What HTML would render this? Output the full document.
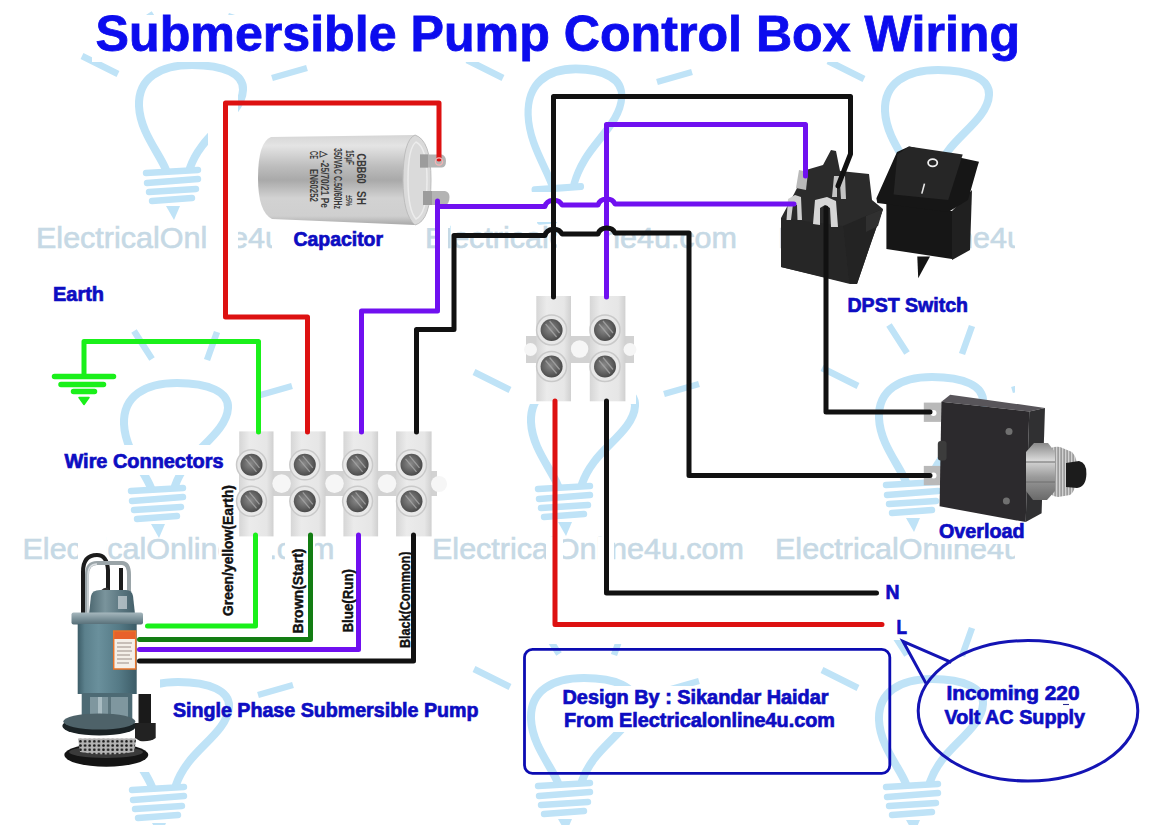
<!DOCTYPE html>
<html><head><meta charset="utf-8"><title>Submersible Pump Control Box Wiring</title>
<style>
html,body{margin:0;padding:0;background:#fff;width:1161px;height:825px;overflow:hidden}
svg{position:absolute;left:0;top:0;display:block}
text{font-family:"Liberation Sans",sans-serif;font-weight:bold}
</style></head><body>
<svg width="1161" height="825" viewBox="0 0 1161 825">
<defs>
<linearGradient id="capg" x1="0" y1="0" x2="0" y2="1">
<stop offset="0" stop-color="#d6d6d6"/><stop offset="0.12" stop-color="#e4e4e4"/><stop offset="0.35" stop-color="#bdbdbd"/><stop offset="0.5" stop-color="#a9a9a9"/><stop offset="0.7" stop-color="#d2d2d2"/><stop offset="0.9" stop-color="#cfcfcf"/><stop offset="1" stop-color="#a8a8a8"/>
</linearGradient>
<linearGradient id="tbg" x1="0" y1="0" x2="1" y2="0">
<stop offset="0" stop-color="#d6d6d6"/><stop offset="0.3" stop-color="#ebebeb"/><stop offset="0.8" stop-color="#e6e6e6"/><stop offset="1" stop-color="#d0d0d0"/>
</linearGradient>
<radialGradient id="scg" cx="0.45" cy="0.45" r="0.6">
<stop offset="0" stop-color="#8a8a8a"/><stop offset="0.6" stop-color="#626262"/><stop offset="1" stop-color="#444"/>
</radialGradient>
<linearGradient id="nutg" x1="0" y1="0" x2="0" y2="1">
<stop offset="0" stop-color="#8a8a8a"/><stop offset="0.3" stop-color="#d8d8d8"/><stop offset="0.6" stop-color="#9a9a9a"/><stop offset="1" stop-color="#6a6a6a"/>
</linearGradient>
<linearGradient id="pcap" x1="0" y1="0" x2="1" y2="0">
<stop offset="0" stop-color="#4d6871"/><stop offset="0.35" stop-color="#7a949c"/><stop offset="0.7" stop-color="#5a7680"/><stop offset="1" stop-color="#45606a"/>
</linearGradient>
<linearGradient id="pfl" x1="0" y1="0" x2="0" y2="1">
<stop offset="0" stop-color="#a7b8be"/><stop offset="0.5" stop-color="#7d939b"/><stop offset="1" stop-color="#566e77"/>
</linearGradient>
<linearGradient id="pbody" x1="0" y1="0" x2="1" y2="0">
<stop offset="0" stop-color="#3d5d68"/><stop offset="0.12" stop-color="#5b808c"/><stop offset="0.35" stop-color="#6a909c"/><stop offset="0.7" stop-color="#557a86"/><stop offset="1" stop-color="#3c5c67"/>
</linearGradient>
<pattern id="dots" width="4.6" height="4.2" patternUnits="userSpaceOnUse"><rect width="4.6" height="4.2" fill="#b4b4b4"/><circle cx="2.3" cy="2.1" r="1.35" fill="#1a1a1a"/></pattern>
<linearGradient id="strain" x1="0" y1="0" x2="1" y2="0"><stop offset="0" stop-color="#9a9a9a"/><stop offset="0.5" stop-color="#8a8a8a"/><stop offset="1" stop-color="#777"/></linearGradient>
<g id="bulb">
<path d="M-24 104 C-30 88 -50 66 -51 40 C-52 12 -30 -1 2 -1 C34 -1 54 8 53 24 C52 45 25 62 12 80 C6 88 2 96 0 102" fill="none" stroke="#bfe3f7" stroke-width="8" stroke-linecap="round"/>
<path d="M-44 107 L8 104 M-43 117 L8 113 M-41 126 L6 123 M-38 135 L2 132" stroke="#bfe3f7" stroke-width="6.4" stroke-linecap="round"/>
<path d="M-24 140 L-10 140 L-16 154 Z" fill="#bfe3f7"/>
</g>
<pattern id="knurl" width="3" height="40" patternUnits="userSpaceOnUse"><rect width="3" height="40" fill="#9c9c9c"/><rect width="1.3" height="40" fill="#d2d2d2"/></pattern>
</defs>
<rect width="1161" height="825" fill="#fff"/>

<!-- WATERMARK -->
<g id="wm">
<use href="#bulb" x="190" y="66"/>
<use href="#bulb" transform="translate(574 70) scale(0.9 1.12)"/>
<use href="#bulb" x="936" y="71"/>
<use href="#bulb" x="175" y="384"/>
<use href="#bulb" x="582" y="382"/>
<use href="#bulb" x="930" y="378"/>
<use href="#bulb" x="176" y="683"/>
<use href="#bulb" x="582" y="679"/>
<use href="#bulb" x="930" y="680"/>
<path d="M82 56 L118 74 M272 78 L307 68 M149 13 L167 41 M232 14 L222 42 M467 60 L503 78 M657 82 L692 72 M534 17 L552 45 M617 18 L607 46 M828 61 L864 79 M1018 83 L1053 73 M895 18 L913 46 M978 19 L968 47 M67 374 L103 392 M257 396 L292 386 M134 331 L152 359 M217 332 L207 360 M474 372 L510 390 M664 394 L699 384 M541 329 L559 357 M624 330 L614 358 M822 368 L858 386 M1012 390 L1047 380 M889 325 L907 353 M972 326 L962 354 M68 673 L104 691 M258 695 L293 685 M135 630 L153 658 M218 631 L208 659 M474 669 L510 687 M664 691 L699 681 M541 626 L559 654 M624 627 L614 655 M822 670 L858 688 M1012 692 L1047 682 M889 627 L907 655 M972 628 L962 656" stroke="#bfe3f7" stroke-width="6.5"/>
<text x="36" y="248" font-size="29" style="font-weight:normal" fill="#c6d9e5" stroke="#c6d9e5" stroke-width="0.6" textLength="312" lengthAdjust="spacingAndGlyphs">ElectricalOnline4u.com</text>
<text x="425" y="248" font-size="29" style="font-weight:normal" fill="#c6d9e5" stroke="#c6d9e5" stroke-width="0.6" textLength="312" lengthAdjust="spacingAndGlyphs">ElectricalOnline4u.com</text>
<text x="778" y="248" font-size="29" style="font-weight:normal" fill="#c6d9e5" stroke="#c6d9e5" stroke-width="0.6" textLength="312" lengthAdjust="spacingAndGlyphs">ElectricalOnline4u.com</text>
<text x="22.5" y="559" font-size="29" style="font-weight:normal" fill="#c6d9e5" stroke="#c6d9e5" stroke-width="0.6" textLength="312" lengthAdjust="spacingAndGlyphs">ElectricalOnline4u.com</text>
<text x="432" y="559" font-size="29" style="font-weight:normal" fill="#c6d9e5" stroke="#c6d9e5" stroke-width="0.6" textLength="312" lengthAdjust="spacingAndGlyphs">ElectricalOnline4u.com</text>
<text x="775" y="559" font-size="29" style="font-weight:normal" fill="#c6d9e5" stroke="#c6d9e5" stroke-width="0.6" textLength="312" lengthAdjust="spacingAndGlyphs">ElectricalOnline4u.com</text>
<rect x="92" y="15" width="926" height="47" fill="#fff"/>
<rect x="208" y="95" width="30" height="165" fill="#fff"/>
<rect x="272" y="224" width="122" height="28" fill="#fff"/>
<rect x="255" y="128" width="195" height="100" fill="#fff"/>
<rect x="46" y="282" width="66" height="24" fill="#fff"/>
<rect x="56" y="445" width="174" height="30" fill="#fff"/>
<rect x="840" y="290" width="134" height="27" fill="#fff"/>
<rect x="932" y="520" width="98" height="24" fill="#fff"/>
<rect x="219" y="482" width="18" height="140" fill="#fff"/>
<rect x="285" y="537" width="30" height="101" fill="#fff"/>
<rect x="339" y="566" width="18" height="70" fill="#fff"/>
<rect x="397" y="548" width="17" height="104" fill="#fff"/>
<rect x="440" y="562" width="452" height="82" fill="#fff"/>
<rect x="880" y="578" width="32" height="62" fill="#fff"/>
<rect x="137" y="562" width="285" height="103" fill="#fff"/>
<rect x="524" y="293" width="112" height="111" fill="#fff"/>
<rect x="862" y="200" width="26" height="60" fill="#fff"/>
<rect x="78" y="535" width="28" height="26" fill="#fff"/>
<rect x="558" y="686" width="282" height="46" fill="#fff"/>
<rect x="48" y="360" width="72" height="48" fill="#fff"/>
<rect x="237" y="537" width="35" height="25" fill="#fff"/>
<rect x="55" y="562" width="105" height="210" fill="#fff"/>
<rect x="557" y="222" width="46" height="30" fill="#fff"/>
<rect x="440" y="222" width="8" height="30" fill="#fff"/>
<rect x="546" y="537" width="17" height="25" fill="#fff"/>
<rect x="598" y="537" width="16" height="25" fill="#fff"/>
<rect x="500" y="192" width="150" height="30" fill="#fff"/>
<rect x="1015" y="0" width="146" height="825" fill="#fff"/>
</g>

<!-- TITLE -->
<text x="95.6" y="50.5" font-size="50" fill="#0c0cee" stroke="#0c0cee" stroke-width="0.8" textLength="924.5" lengthAdjust="spacingAndGlyphs">Submersible Pump Control Box Wiring</text>

<!-- CAPACITOR -->
<g id="cap">
<path d="M271 137 L415 135 L415 225 L272 219 Q258 212 258 178 Q258 142 271 137 Z" fill="url(#capg)"/>
<path d="M415 135 Q431 140 431 180 Q431 221 415 225 Q403 215 403 180 Q403 140 415 135 Z" fill="#dadada" stroke="#bdbdbd" stroke-width="1"/><path d="M416 142 Q427 147 427 180 Q427 214 416 219 Q408 210 408 180 Q408 148 416 142 Z" fill="none" stroke="#ececec" stroke-width="1.5"/>
<g fill="#3a3a3a" style="font-family:'Liberation Serif',serif;font-weight:bold">
<text transform="translate(356.5 153.6) rotate(90)" font-size="13" textLength="30" lengthAdjust="spacingAndGlyphs">CBB60</text>
<text transform="translate(356.5 191) rotate(90)" font-size="13" textLength="14" lengthAdjust="spacingAndGlyphs">SH</text>
<text transform="translate(346 150) rotate(90)" font-size="10" textLength="15" lengthAdjust="spacingAndGlyphs">15μF</text>
<text transform="translate(346 195) rotate(90)" font-size="9" textLength="11" lengthAdjust="spacingAndGlyphs">±5%</text>
<text transform="translate(333.5 148) rotate(90)" font-size="10" textLength="61" lengthAdjust="spacingAndGlyphs">350VAC C.50/60Hz</text>
<text transform="translate(321 151) rotate(90)" font-size="10" textLength="57" lengthAdjust="spacingAndGlyphs">△ -25/70/21 Pe</text>
<text transform="translate(310 151) rotate(90)" font-size="10" textLength="8" lengthAdjust="spacingAndGlyphs">CE</text>
<text transform="translate(310 169) rotate(90)" font-size="10" textLength="33" lengthAdjust="spacingAndGlyphs">EN60252</text>
</g>
<path d="M420 154.5 H442 Q446 156 446 161 Q446 167 442 167.5 H420 Z" fill="#b4b4b4"/><rect x="420" y="154.5" width="8" height="13" fill="#9c9c9c"/>
<path d="M423 191 H445 Q449.5 192 449.5 197 Q449.5 204 445 205 H423 Z" fill="#b4b4b4"/><rect x="423" y="191" width="9" height="14" fill="#9c9c9c"/>
</g>


<!-- TERMINAL BLOCKS -->
<g id="tb4">
<rect x="239" y="471" width="198" height="25" fill="#d2d2d2"/>
<rect x="239.2" y="431.4" width="34.3" height="105" fill="url(#tbg)"/>
<rect x="290.8" y="431.4" width="34.8" height="105" fill="url(#tbg)"/>
<rect x="343.4" y="431.4" width="34.7" height="105" fill="url(#tbg)"/>
<rect x="396.1" y="431.4" width="35.5" height="105" fill="url(#tbg)"/>
<circle cx="281.6" cy="483.6" r="9.3" fill="#f6f6f6"/>
<circle cx="334.5" cy="483.6" r="9.3" fill="#f6f6f6"/>
<circle cx="387" cy="483.6" r="9.3" fill="#f6f6f6"/>
<circle cx="439" cy="484" r="8" fill="#f6f6f6"/>
<g id="scr">
</g>
</g>
<g id="tb2">
<rect x="526" y="336" width="108" height="27" fill="#d2d2d2"/>
<rect x="536.3" y="296" width="34.7" height="105.3" fill="url(#tbg)"/>
<rect x="589.8" y="296" width="35.6" height="105.3" fill="url(#tbg)"/>
<circle cx="579.6" cy="349" r="8.7" fill="#f6f6f6"/>
<circle cx="530.5" cy="349.5" r="6.5" fill="#f6f6f6"/>
<circle cx="630" cy="349.5" r="6.5" fill="#f6f6f6"/>
</g>
<circle cx="251.5" cy="464.8" r="15" fill="#e8e8e8" stroke="#c9c9c9" stroke-width="1.5"/><circle cx="251.5" cy="464.8" r="11" fill="url(#scg)"/><path d="M245.5 458.8 L256.5 471.8 M249.5 455.8 L259.5 467.8" stroke="#a8a8a8" stroke-width="1.3" opacity="0.8"/>
<circle cx="251.5" cy="501.3" r="15" fill="#e8e8e8" stroke="#c9c9c9" stroke-width="1.5"/><circle cx="251.5" cy="501.3" r="11" fill="url(#scg)"/><path d="M245.5 495.3 L256.5 508.3 M249.5 492.3 L259.5 504.3" stroke="#a8a8a8" stroke-width="1.3" opacity="0.8"/>
<circle cx="304.8" cy="464.8" r="15" fill="#e8e8e8" stroke="#c9c9c9" stroke-width="1.5"/><circle cx="304.8" cy="464.8" r="11" fill="url(#scg)"/><path d="M298.8 458.8 L309.8 471.8 M302.8 455.8 L312.8 467.8" stroke="#a8a8a8" stroke-width="1.3" opacity="0.8"/>
<circle cx="304.8" cy="501.3" r="15" fill="#e8e8e8" stroke="#c9c9c9" stroke-width="1.5"/><circle cx="304.8" cy="501.3" r="11" fill="url(#scg)"/><path d="M298.8 495.3 L309.8 508.3 M302.8 492.3 L312.8 504.3" stroke="#a8a8a8" stroke-width="1.3" opacity="0.8"/>
<circle cx="357.6" cy="464.8" r="15" fill="#e8e8e8" stroke="#c9c9c9" stroke-width="1.5"/><circle cx="357.6" cy="464.8" r="11" fill="url(#scg)"/><path d="M351.6 458.8 L362.6 471.8 M355.6 455.8 L365.6 467.8" stroke="#a8a8a8" stroke-width="1.3" opacity="0.8"/>
<circle cx="357.6" cy="501.3" r="15" fill="#e8e8e8" stroke="#c9c9c9" stroke-width="1.5"/><circle cx="357.6" cy="501.3" r="11" fill="url(#scg)"/><path d="M351.6 495.3 L362.6 508.3 M355.6 492.3 L365.6 504.3" stroke="#a8a8a8" stroke-width="1.3" opacity="0.8"/>
<circle cx="411.5" cy="464.8" r="15" fill="#e8e8e8" stroke="#c9c9c9" stroke-width="1.5"/><circle cx="411.5" cy="464.8" r="11" fill="url(#scg)"/><path d="M405.5 458.8 L416.5 471.8 M409.5 455.8 L419.5 467.8" stroke="#a8a8a8" stroke-width="1.3" opacity="0.8"/>
<circle cx="411.5" cy="501.3" r="15" fill="#e8e8e8" stroke="#c9c9c9" stroke-width="1.5"/><circle cx="411.5" cy="501.3" r="11" fill="url(#scg)"/><path d="M405.5 495.3 L416.5 508.3 M409.5 492.3 L419.5 504.3" stroke="#a8a8a8" stroke-width="1.3" opacity="0.8"/>
<circle cx="551.6" cy="330" r="15" fill="#e8e8e8" stroke="#c9c9c9" stroke-width="1.5"/><circle cx="551.6" cy="330" r="11" fill="url(#scg)"/><path d="M545.6 324.0 L556.6 337.0 M549.6 321.0 L559.6 333.0" stroke="#a8a8a8" stroke-width="1.3" opacity="0.8"/>
<circle cx="551.6" cy="366.5" r="15" fill="#e8e8e8" stroke="#c9c9c9" stroke-width="1.5"/><circle cx="551.6" cy="366.5" r="11" fill="url(#scg)"/><path d="M545.6 360.5 L556.6 373.5 M549.6 357.5 L559.6 369.5" stroke="#a8a8a8" stroke-width="1.3" opacity="0.8"/>
<circle cx="605" cy="330" r="15" fill="#e8e8e8" stroke="#c9c9c9" stroke-width="1.5"/><circle cx="605" cy="330" r="11" fill="url(#scg)"/><path d="M599.0 324.0 L610.0 337.0 M603.0 321.0 L613.0 333.0" stroke="#a8a8a8" stroke-width="1.3" opacity="0.8"/>
<circle cx="605" cy="366.5" r="15" fill="#e8e8e8" stroke="#c9c9c9" stroke-width="1.5"/><circle cx="605" cy="366.5" r="11" fill="url(#scg)"/><path d="M599.0 360.5 L610.0 373.5 M603.0 357.5 L613.0 369.5" stroke="#a8a8a8" stroke-width="1.3" opacity="0.8"/>

<!-- SWITCH 1 -->
<g id="sw1">
<path d="M781 218 L794 194 L806 170 L823 165 L831 150 L836 151 L840 171 L869 174 L872 200 L883 209 L872 240 L857 284 L850 284 L781 267 Z" fill="#2b2b2b"/>
<path d="M843 226 L866 216 L883 209 L872 240 L857 284 L849 283 Z" fill="#232323"/><path d="M866 216 L883 209 L878 226 L866 232 Z" fill="#303030"/>
<path d="M781 218 L843 226 L849 283 L781 267 Z" fill="#262626"/>
<path d="M786.5 220 L788 199 L795 195 L801 197 L802 220 L797.5 220 L797 205 L793 204 L791 220 Z" fill="#cfcfcf"/>
<path d="M813 224 L815 200 L827 197 L836 201 L838 227 L831 227 L830 208 L825 205 L820 208 L820 225 Z" fill="#d6d6d6"/>
<path d="M796 188 L799 170 L808 172 L806 190 Z" fill="#b9b9b9"/>
<path d="M832 197 L834 176 L845 176 L846 199 L841 199 L840 184 L837 184 L837 197 Z" fill="#c4c4c4"/>
</g>

<!-- SWITCH 2 -->
<g id="sw2">
<path d="M886.4 203 L952 211 L952 259 L886.4 249 Z" fill="#161616"/>
<path d="M952 211 L972 190 L970 250 L952 260 Z" fill="#202020"/>
<path d="M876.4 198.2 L897 152 L909 146.4 L979 161.8 L977.3 167.3 L968 200 L948.2 212 L877.3 203 Z" fill="#161616"/>
<path d="M893.6 194.5 L897.3 154.5 L909 146.4 L962.7 154.5 L948.2 200 Z" fill="#262626"/>
<path d="M917.3 256.4 L930 256.4 L918.2 278.2 Z" fill="#141414"/>
<ellipse cx="932.7" cy="162.7" rx="4.6" ry="3.6" fill="none" stroke="#f0f0f0" stroke-width="1.8"/>
<path d="M924.5 183.6 L921.8 193.6" stroke="#e8e8e8" stroke-width="1.6"/>
</g>

<!-- OVERLOAD -->
<g id="ovl">
<path d="M923.8 402.6 H941.4 V421.9 H923.8 Z" fill="#b9b9b9"/>
<path d="M923.8 465.9 H941.4 V485.2 H923.8 Z" fill="#b9b9b9"/>
<circle cx="933.5" cy="413" r="3" fill="#fff"/>
<circle cx="933.5" cy="475.5" r="3" fill="#fff"/>
<path d="M941.4 401.7 L950.2 394.7 L1045 407.9 L1029.3 411.4 Z" fill="#58555a"/>
<path d="M1029.3 411.4 L1045 407.9 L1041.6 513.3 L1025.7 522.1 Z" fill="#303032"/>
<path d="M941.4 401.7 L1029.3 411.4 L1025.7 522.1 L939.6 506.3 Z" fill="#2c2a2d"/>
<rect x="937.8" y="441" width="8.8" height="19.6" rx="3" fill="#3c3c3c"/>
<circle cx="1009" cy="431.6" r="3.5" fill="#707070"/>
<circle cx="1006.4" cy="501" r="3.5" fill="#707070"/>
<path d="M1048 452 Q1050 446 1060 447 L1072 452 Q1078 458 1077 472 Q1077 490 1070 495 L1058 497 Q1050 496 1048 490 Z" fill="url(#knurl)"/>
<path d="M1026 452 L1034 443 L1048 443 L1055 452 L1055 491 L1047 500 L1033 500 L1026 491 Z" fill="url(#nutg)"/>
<path d="M1026 462 H1055 M1026 482 H1055" stroke="#6f6f6f" stroke-width="1"/>
<path d="M1066 463 L1079 461 Q1087 463 1086.4 474 Q1086 487 1077 488 L1066 487 Z" fill="#1c1c1c"/>
</g>


<!-- PUMP -->
<g id="pump">
<path d="M83 614 V572 Q83 555 97 555 Q107 555 108 570 V592" fill="none" stroke="#1c1c1c" stroke-width="4"/>
<path d="M87 616 V575 Q87 563 97 563 H122 Q129 563 129 575 V592" fill="none" stroke="#9aa4a8" stroke-width="4"/>
<path d="M88 616 V575 Q88 564 97 564" fill="none" stroke="#d8dde0" stroke-width="1.5"/>
<path d="M121 568 V592" fill="none" stroke="#1c1c1c" stroke-width="4"/>
<path d="M98 596 Q102 586 108 588 L112 594 Z" fill="#333"/>
<path d="M89 614 L91 596 Q92 590 100 590 H126 Q132 590 133 596 L135 614 Z" fill="url(#pcap)"/>
<rect x="118" y="596" width="9" height="13" fill="#cdd6da" opacity="0.7"/>
<rect x="71.5" y="612.5" width="71.5" height="12" rx="2" fill="url(#pfl)"/>
<rect x="77.7" y="624" width="59" height="70" fill="url(#pbody)"/>
<rect x="113.7" y="631" width="22" height="38" fill="#f4efe8"/>
<rect x="113.7" y="631" width="22" height="8" fill="#e8612a"/>
<rect x="113.7" y="631" width="22" height="38" fill="none" stroke="#e8742a" stroke-width="1.5"/>
<g stroke="#9a8d86" stroke-width="1"><path d="M117 643 H132 M117 647 H131 M117 651 H132 M117 655 H130 M117 659 H132 M117 663 H129"/></g>
<rect x="81.7" y="693" width="50.6" height="27" fill="#4d6a74"/>
<rect x="90" y="697" width="38" height="21" fill="#7f979f"/>
<rect x="98" y="697" width="4" height="21" fill="#a9bcc2"/>
<rect x="108" y="697" width="3" height="21" fill="#5b747c"/>
<ellipse cx="99.3" cy="726" rx="37" ry="9.5" fill="#1a2225"/>
<ellipse cx="99.3" cy="721.5" rx="36" ry="8" fill="#4e6269"/>
<path d="M138.5 694 H151 V725 H138.5 Z" fill="#1a1a1a"/>
<path d="M135 723 H155.7 V738 Q150 742 140 741 L135 738 Z" fill="#222"/>
<ellipse cx="106.3" cy="755" rx="42" ry="11.7" fill="#141414"/>
<ellipse cx="106" cy="752" rx="37" ry="6" fill="#3a3a3a"/>
<path d="M78 738.5 H136.3 L134 752 Q107 757 80 752 Z" fill="url(#dots)"/>
</g>

<!-- WIRES -->
<g fill="none" stroke-width="5" stroke-linecap="round" stroke-linejoin="round">
<path stroke="#dd1111" d="M307.5 432 V317 H225.5 V103 H439 V159"/>
<path stroke="#dd1111" d="M555 401 V624.5 H882"/>
<path stroke="#7010f0" d="M437.5 201 V311 H361.5 V432"/>
<path stroke="#7010f0" d="M437.5 206.5 H545 A9 8 0 0 1 562 205 H598 A9 8 0 0 1 615 204 H794"/>
<path stroke="#7010f0" d="M606.5 297 V124.5 H805.5 V176"/>
<path stroke="#111" d="M416.5 432 V329.5 H454 V235.5 H545 A9 8 0 0 1 562 234 H598 A9 8 0 0 1 615 233 H689 V475.5 H930"/>
<path stroke="#111" d="M553.5 297 V96.5 H850.5 V154 L838 186"/>
<path stroke="#111" d="M826 208 V412 H930"/>
<path stroke="#111" d="M606.5 401 V593 H876.5"/>
<path stroke="#1af01a" d="M84 374 V341.5 H258.5 V432"/>
<path stroke="#1af01a" d="M255.5 535 V626 H147.5"/>
<path stroke="#137d13" d="M310.5 535 V639.5 H139.5"/>
<path stroke="#7010f0" d="M358.5 535 V649.5 H139.5"/>
<path stroke="#111" d="M413.5 535 V661 H139.5"/>
<path stroke="#1af01a" stroke-width="5.5" d="M54.5 376.5 H113.5 M61 384.5 H103.5 M73.5 391.5 H94.5"/>
</g>
<path d="M79 397.5 H89 L84 404.5 Z" fill="#1af01a" stroke="#1af01a" stroke-width="1.5" stroke-linejoin="round"/>

<circle cx="439" cy="161.5" r="3.6" fill="none" stroke="#f3b5b5" stroke-width="1.3"/>
<!-- LABELS -->
<g fill="#0d0dc2" stroke="#0d0dc2" stroke-width="0.7">
<text x="293.5" y="245.8" font-size="19.4" textLength="89.5" lengthAdjust="spacingAndGlyphs">Capacitor</text>
<text x="53.0" y="300.9" font-size="19.4" textLength="51.0" lengthAdjust="spacingAndGlyphs">Earth</text>
<text x="64.5" y="468.0" font-size="19.4" textLength="159.0" lengthAdjust="spacingAndGlyphs">Wire Connectors</text>
<text x="847.5" y="311.9" font-size="19.4" textLength="120.5" lengthAdjust="spacingAndGlyphs">DPST Switch</text>
<text x="939.0" y="538.1" font-size="19.4" textLength="85.5" lengthAdjust="spacingAndGlyphs">Overload</text>
<text x="885.5" y="599.1" font-size="19.4" textLength="14.0" lengthAdjust="spacingAndGlyphs">N</text>
<text x="896.5" y="634.0" font-size="19.4" textLength="10.5" lengthAdjust="spacingAndGlyphs">L</text>
<text x="173.0" y="716.9" font-size="19.4" textLength="305.5" lengthAdjust="spacingAndGlyphs">Single Phase Submersible Pump</text>
<text x="562.5" y="703.8" font-size="19.4" textLength="266.0" lengthAdjust="spacingAndGlyphs">Design By : Sikandar Haidar</text>
<text x="564.0" y="726.9" font-size="19.4" textLength="271.0" lengthAdjust="spacingAndGlyphs">From Electricalonline4u.com</text>
<text x="946.5" y="699.8" font-size="19.4" textLength="133.0" lengthAdjust="spacingAndGlyphs">Incoming 220</text>
<text x="944.5" y="724.0" font-size="19.4" textLength="140.5" lengthAdjust="spacingAndGlyphs">Volt AC Supply</text>
</g>
<g fill="#111" stroke="#111" stroke-width="0.4" font-size="14">
<text transform="translate(232.5 616.0) rotate(-90)" textLength="131.0" lengthAdjust="spacingAndGlyphs">Green/yellow(Earth)</text>
<text transform="translate(302.6 633.5) rotate(-90)" textLength="85.0" lengthAdjust="spacingAndGlyphs">Brown(Start)</text>
<text transform="translate(353.2 632.5) rotate(-90)" textLength="63.5" lengthAdjust="spacingAndGlyphs">Blue(Run)</text>
<text transform="translate(410.0 648.0) rotate(-90)" textLength="96.5" lengthAdjust="spacingAndGlyphs">Black(Common)</text>
</g>

<path d="M1063 704.5 H1069" stroke="#2a2a90" stroke-width="1.1"/>
<!-- BOX + BUBBLE -->
<rect x="524.5" y="649.3" width="365.3" height="124" rx="8" fill="none" stroke="#0c0cb2" stroke-width="2.8"/>
<path d="M951.4 662.4 L903 641.3 L926 683.4" fill="none" stroke="#1414b4" stroke-width="3" stroke-linejoin="miter"/>
<ellipse cx="1028" cy="710.8" rx="109.8" ry="70.2" fill="none" stroke="#1414b4" stroke-width="3"/>
</svg>
</body></html>
